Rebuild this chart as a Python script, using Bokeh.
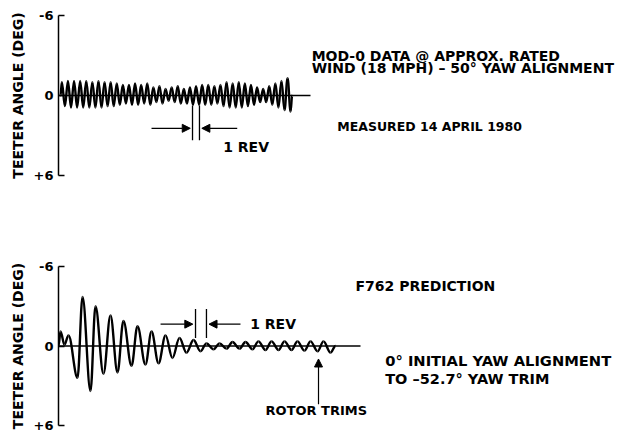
from bokeh.plotting import figure
from bokeh.layouts import column
from bokeh.models import Range1d, FixedTicker, ColumnDataSource, Arrow, NormalHead
from bokeh.core.properties import value
from bokeh.embed import file_html
from bokeh.resources import INLINE

# ---------------- data ----------------
# Top: measured MOD-0 teeter angle, extrema (time in rev, angle in deg; negative = up)
top_rev = [0.33,
           0.55, 1.05, 1.55, 2.05, 2.55, 3.05, 3.55, 4.05, 4.55, 5.05,
           5.55, 6.05, 6.55, 7.05, 7.55, 8.05, 8.55, 9.05, 9.55, 10.05,
           10.55, 11.05, 11.55, 12.05, 12.55, 13.05, 13.55, 14.05, 14.55, 15.05,
           15.55, 16.05, 16.55, 17.05, 17.55, 18.05, 18.55, 19.05, 19.55, 20.05,
           20.55, 21.05, 21.55, 22.05, 22.55, 23.05, 23.55, 24.05, 24.55, 25.05,
           25.55, 26.05, 26.55, 27.05, 27.55, 28.05, 28.55, 29.05, 29.55, 30.05,
           30.55, 31.05, 31.55, 32.05, 32.55, 33.05, 33.55, 34.05, 34.55, 35.05,
           35.55, 36.05, 36.55, 37.05, 37.55, 38.05,
           38.3]
top_deg = [0.0,
           -1.0, 0.8, -1.1, 0.9, -1.1, 0.9, -1.1, 0.9, -1.1, 0.9,
           -1.0, 0.9, -1.1, 0.9, -1.0, 0.8, -1.0, 0.8, -0.9, 0.7,
           -0.8, 0.6, -0.8, 0.7, -0.9, 0.7, -0.8, 0.6, -0.9, 0.7,
           -0.6, 0.5, -0.7, 0.6, -0.5, 0.4, -0.6, 0.5, -0.7, 0.6,
           -0.5, 0.6, -0.6, 0.7, -0.7, 0.7, -0.8, 0.7, -0.8, 0.7,
           -0.7, 0.6, -0.8, 0.8, -1.0, 0.9, -0.9, 0.9, -1.0, 0.9,
           -0.9, 0.8, -0.8, 0.7, -0.6, 0.5, -0.5, 0.5, -0.7, 0.7,
           -0.9, 0.9, -1.1, 1.1, -1.3, 1.2,
           0.0]

# Bottom: F762 prediction, extrema (time in rev, angle in deg)
bot_rev = [0.0, 0.15, 0.44, 0.74, 1.41, 1.78, 2.37, 2.74, 3.33, 3.85, 4.37,
           4.81, 5.41, 5.85, 6.44, 6.89, 7.41, 7.93, 8.44, 8.96, 9.48,
           10.0, 10.52, 10.96, 11.48, 11.93, 12.44, 12.89, 13.41, 13.85, 14.37,
           14.81, 15.33, 15.78, 16.30, 16.74, 17.26, 17.70, 18.22, 18.67, 19.19,
           19.63, 20.15, 20.52]
bot_deg = [0.0, -1.1, -0.1, -0.8, 2.4, -3.7, 3.4, -3.0, 2.1, -2.3, 2.0,
           -1.9, 1.5, -1.5, 1.4, -1.1, 1.3, -0.8, 0.9, -0.6, 0.5,
           -0.45, 0.4, -0.2, 0.25, -0.2, 0.2, -0.3, 0.2, -0.3, 0.25,
           -0.35, 0.3, -0.35, 0.3, -0.35, 0.3, -0.35, 0.35, -0.35, 0.4,
           -0.35, 0.5, 0.0]

tick_vals = [-6, 0, 6]
tick_text = ["-6", "0", "+6"]
y_title = "TEETER ANGLE (DEG)"

FONT = value("DejaVu Sans")
TXT = "14px"
FIG_W = 620
LEFT = 58
FRAME_W = FIG_W - LEFT


def wave_source(ts, vs, k=0.36):
    x0, x1 = ts[:-1], ts[1:]
    y0, y1 = vs[:-1], vs[1:]
    cx0 = [a + k * (b - a) for a, b in zip(x0, x1)]
    cx1 = [b - k * (b - a) for a, b in zip(x0, x1)]
    return ColumnDataSource(dict(x0=x0, y0=y0, x1=x1, y1=y1,
                                 cx0=cx0, cy0=y0, cx1=cx1, cy1=y1))


def make_fig(height, xmax, top_b, bot_b):
    p = figure(width=FIG_W, height=height, output_backend="svg", toolbar_location=None,
               x_range=Range1d(0, xmax), y_range=Range1d(6, -6),
               x_axis_type=None, min_border_left=LEFT, min_border_right=0,
               min_border_top=top_b, min_border_bottom=bot_b)
    p.outline_line_color = None
    p.grid.visible = False
    ax = p.yaxis[0]
    ax.ticker = FixedTicker(ticks=tick_vals)
    ax.major_label_overrides = {v: t for v, t in zip(tick_vals, tick_text)}
    ax.major_tick_in = 6
    ax.major_tick_out = 0
    ax.minor_tick_line_color = None
    ax.axis_line_width = 1.5
    ax.major_tick_line_width = 1.5
    ax.major_label_text_font = "DejaVu Sans"
    ax.major_label_text_font_style = "bold"
    ax.major_label_text_font_size = "13px"
    ax.major_label_text_color = "black"
    ax.major_label_standoff = 5
    ax.axis_label = y_title
    ax.axis_label_text_font = "DejaVu Sans"
    ax.axis_label_text_font_style = "bold"
    ax.axis_label_text_font_size = "14px"
    ax.axis_label_text_color = "black"
    ax.axis_label_standoff = 5
    return p


def label(p, x, y, s, align="left", size=TXT):
    p.text(x=[x], y=[y], text=[s], text_font=FONT, text_font_style="bold",
           text_font_size=size, text_align=align, text_baseline="middle", text_color="black")


def arrow(p, xs, ys, xe, ye, size=8):
    p.add_layout(Arrow(end=NormalHead(size=size, fill_color="black", line_color="black", line_width=1),
                       x_start=xs, y_start=ys, x_end=xe, y_end=ye, line_width=1.2, line_color="black"))


# ---------------- top panel ----------------
TOP_PX = 6.1
p1 = make_fig(218, FRAME_W / TOP_PX, 15, 43)
p1.segment(x0=[0], y0=[0], x1=[252 / TOP_PX], y1=[0], line_color="black", line_width=1.5)
p1.bezier(x0="x0", y0="y0", x1="x1", y1="y1", cx0="cx0", cy0="cy0", cx1="cx1", cy1="cy1",
          source=wave_source(top_rev, top_deg), line_color="black", line_width=2.4)
# 1 REV marker
p1.segment(x0=[21.97, 23.11], y0=[0.75, 0.75], x1=[21.97, 23.11], y1=[3.35, 3.35],
           line_color="black", line_width=1.3)
arrow(p1, 15.25, 2.46, 21.6, 2.46)
arrow(p1, 29.3, 2.46, 23.5, 2.46)
label(p1, 27.0, 3.85, "1 REV")
label(p1, 41.5, -3.0, "MOD-0 DATA @ APPROX. RATED")
label(p1, 41.5, -2.1, "WIND (18 MPH) \u2013 50\u00b0 YAW ALIGNMENT")
label(p1, 45.7, 2.35, "MEASURED 14 APRIL 1980", size="12.5px")

# ---------------- bottom panel ----------------
BOT_PX = 13.5
p2 = make_fig(216, FRAME_W / BOT_PX, 48, 9)
p2.segment(x0=[0], y0=[0], x1=[302 / BOT_PX], y1=[0], line_color="black", line_width=1.5)
p2.bezier(x0="x0", y0="y0", x1="x1", y1="y1", cx0="cx0", cy0="cy0", cx1="cx1", cy1="cy1",
          source=wave_source(bot_rev, bot_deg), line_color="black", line_width=2.4)
p2.segment(x0=[10.15, 10.96], y0=[-2.8, -2.8], x1=[10.15, 10.96], y1=[-0.6, -0.6],
           line_color="black", line_width=1.3)
arrow(p2, 7.56, -1.65, 9.95, -1.65)
arrow(p2, 13.48, -1.65, 11.15, -1.65)
label(p2, 14.2, -1.65, "1 REV")
label(p2, 22.0, -4.5, "F762 PREDICTION")
label(p2, 24.2, 1.13, "0\u00b0 INITIAL YAW ALIGNMENT", size="14.7px")
label(p2, 24.2, 2.48, "TO \u201352.7\u00b0 YAW TRIM", size="14.5px")
label(p2, 19.1, 4.9, "ROTOR TRIMS", align="center", size="13px")
arrow(p2, 19.26, 4.4, 19.26, 0.98)

layout = column(p1, p2, spacing=0)
open("out.html", "w").write(file_html(layout, INLINE))
